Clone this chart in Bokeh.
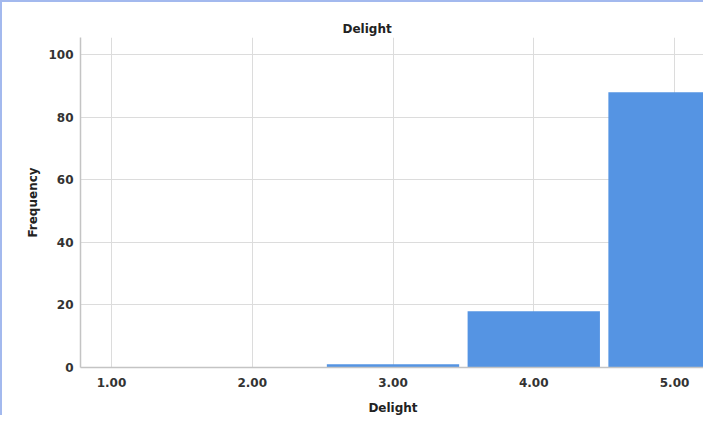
from bokeh.plotting import figure
from bokeh.models import Range1d, FixedTicker, PrintfTickFormatter, Title
from bokeh.embed import file_html
from bokeh.resources import INLINE

# Data
categories = [1.0, 2.0, 3.0, 4.0, 5.0]
frequencies = [0, 0, 1, 18, 88]
x_ticks = [1, 2, 3, 4, 5]
y_ticks = [0, 20, 40, 60, 80, 100]
bar_width = 0.94

FONT = "DejaVu Sans"

p = figure(width=703, height=415, output_backend="svg", toolbar_location=None,
           x_range=Range1d(0.78, 5.22), y_range=Range1d(0, 105.5),
           min_border_left=78, min_border_right=0, min_border_top=35,
           min_border_bottom=49)
p.styles = {"border-left": "2px solid #a3b9ee", "border-top": "2px solid #a3b9ee"}

p.add_layout(Title(text="Delight", align="left", offset=262,
                   text_font=FONT, text_font_size="12px", text_font_style="bold",
                   text_color="#222222", standoff=4), "above")

left = [c - bar_width / 2 for c in categories]
right = [c + bar_width / 2 for c in categories]
p.quad(left=left, right=right, bottom=0, top=frequencies,
       fill_color="#5594e3", line_color=None)

p.outline_line_color = None
p.background_fill_color = "white"
p.border_fill_color = "white"

p.xgrid.ticker = FixedTicker(ticks=x_ticks)
p.ygrid.ticker = FixedTicker(ticks=y_ticks)
p.xgrid.grid_line_color = "#dcdcdc"
p.ygrid.grid_line_color = "#dcdcdc"
p.grid.level = "underlay"

p.xaxis.ticker = FixedTicker(ticks=x_ticks)
p.xaxis.formatter = PrintfTickFormatter(format="%.2f")
p.yaxis.ticker = FixedTicker(ticks=y_ticks)

p.xaxis.axis_label = "Delight"
p.yaxis.axis_label = "Frequency"

for ax in (p.xaxis, p.yaxis):
    ax.axis_line_color = "#c4c4c4"
    ax.axis_line_width = 1.5
    ax.major_tick_line_color = None
    ax.minor_tick_line_color = None
    ax.major_label_text_font = FONT
    ax.major_label_text_font_size = "12px"
    ax.major_label_text_font_style = "bold"
    ax.major_label_text_color = "#333333"
    ax.axis_label_text_font = FONT
    ax.axis_label_text_font_size = "12px"
    ax.axis_label_text_font_style = "bold"
    ax.axis_label_text_color = "#222222"

p.xaxis.major_label_standoff = 4
p.xaxis.axis_label_standoff = 11
p.yaxis.major_label_standoff = 1
p.yaxis.axis_label_standoff = 5

open("out.html", "w").write(file_html(p, INLINE))
